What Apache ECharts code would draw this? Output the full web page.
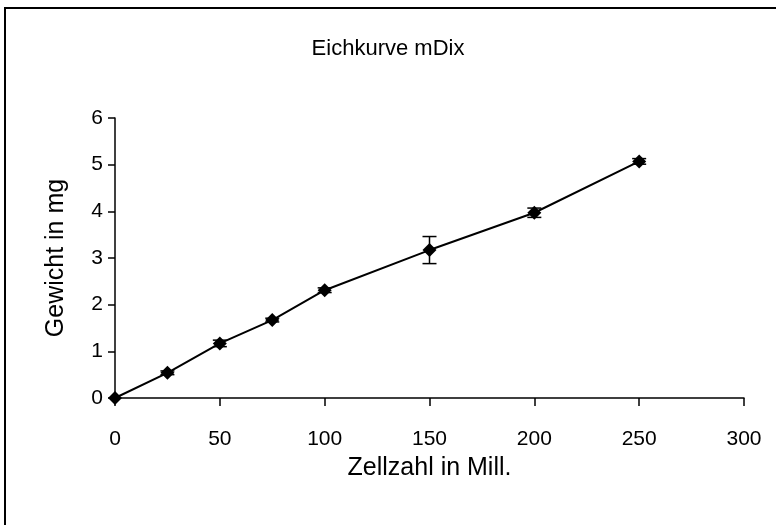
<!DOCTYPE html>
<html><head><meta charset="utf-8">
<script src="https://cdn.jsdelivr.net/npm/echarts@6/dist/echarts.min.js"></script>
<style>html,body{margin:0;padding:0;background:#fff}#c{width:776px;height:525px}</style>
</head><body><div id="c"></div>
<script>
const xValues = [0, 25, 50, 75, 100, 150, 200, 250];
const yValues = [0, 0.54, 1.17, 1.67, 2.31, 3.17, 3.97, 5.07];
const yErrors = [0, 0.04, 0.07, 0.04, 0.05, 0.29, 0.1, 0.06];
const titleText = 'Eichkurve mDix';
const xName = 'Zellzahl in Mill.';
const yName = 'Gewicht in mg';

const FONT = '"Liberation Sans", Arial, sans-serif';
const FS = 21;
const FT = 22;
const FN = 25;
const chart = echarts.init(document.getElementById('c'));
const pts = xValues.map((x, i) => [x, yValues[i]]);
const errData = xValues.map((x, i) => [x, yValues[i] - yErrors[i], yValues[i] + yErrors[i]]);

chart.setOption({
  animation: false,
  backgroundColor: '#fff',
  title: { text: titleText, left: 'center', top: 33, textStyle: { fontFamily: FONT, fontSize: FT, fontWeight: 'normal', color: '#000' } },
  graphic: [{ type: 'rect', shape: { x: 5, y: 8, width: 900, height: 700 }, style: { fill: 'none', stroke: '#000', lineWidth: 2 }, silent: true }],
  grid: { left: 115, right: 32, top: 118, bottom: 127 },
  xAxis: {
    type: 'value', min: 0, max: 300, interval: 50,
    name: xName, nameLocation: 'middle', nameGap: 58,
    nameTextStyle: { fontFamily: FONT, fontSize: FN, color: '#000' },
    axisLine: { onZero: false, lineStyle: { color: '#000', width: 1.5 } },
    axisTick: { show: true, inside: false, length: 8, lineStyle: { color: '#000', width: 1.5 } },
    axisLabel: { fontFamily: FONT, fontSize: FS, color: '#000', margin: 31 },
    splitLine: { show: false }
  },
  yAxis: {
    type: 'value', min: 0, max: 6, interval: 1,
    name: yName, nameLocation: 'middle', nameGap: 46, nameRotate: 90,
    nameTextStyle: { fontFamily: FONT, fontSize: FN, color: '#000' },
    axisLine: { show: true, lineStyle: { color: '#000', width: 1.5 } },
    axisTick: { show: true, inside: false, length: 7, lineStyle: { color: '#000', width: 1.5 } },
    axisLabel: { fontFamily: FONT, fontSize: FS, color: '#000', margin: 12 },
    splitLine: { show: false }
  },
  series: [
    {
      type: 'line', data: pts, symbol: 'diamond', symbolSize: 14,
      lineStyle: { color: '#000', width: 2 }, itemStyle: { color: '#000' }, z: 3
    },
    {
      type: 'custom', data: errData, z: 4,
      renderItem: function (params, api) {
        const x = api.value(0);
        const lo = api.coord([x, api.value(1)]);
        const hi = api.coord([x, api.value(2)]);
        if (Math.abs(hi[1] - lo[1]) < 0.5) return null;
        const w = 7;
        const st = { stroke: '#000', lineWidth: 1.5 };
        return { type: 'group', children: [
          { type: 'line', shape: { x1: lo[0], y1: lo[1], x2: hi[0], y2: hi[1] }, style: st },
          { type: 'line', shape: { x1: lo[0] - w, y1: lo[1], x2: lo[0] + w, y2: lo[1] }, style: st },
          { type: 'line', shape: { x1: hi[0] - w, y1: hi[1], x2: hi[0] + w, y2: hi[1] }, style: st }
        ]};
      }
    }
  ]
});
</script></body></html>
